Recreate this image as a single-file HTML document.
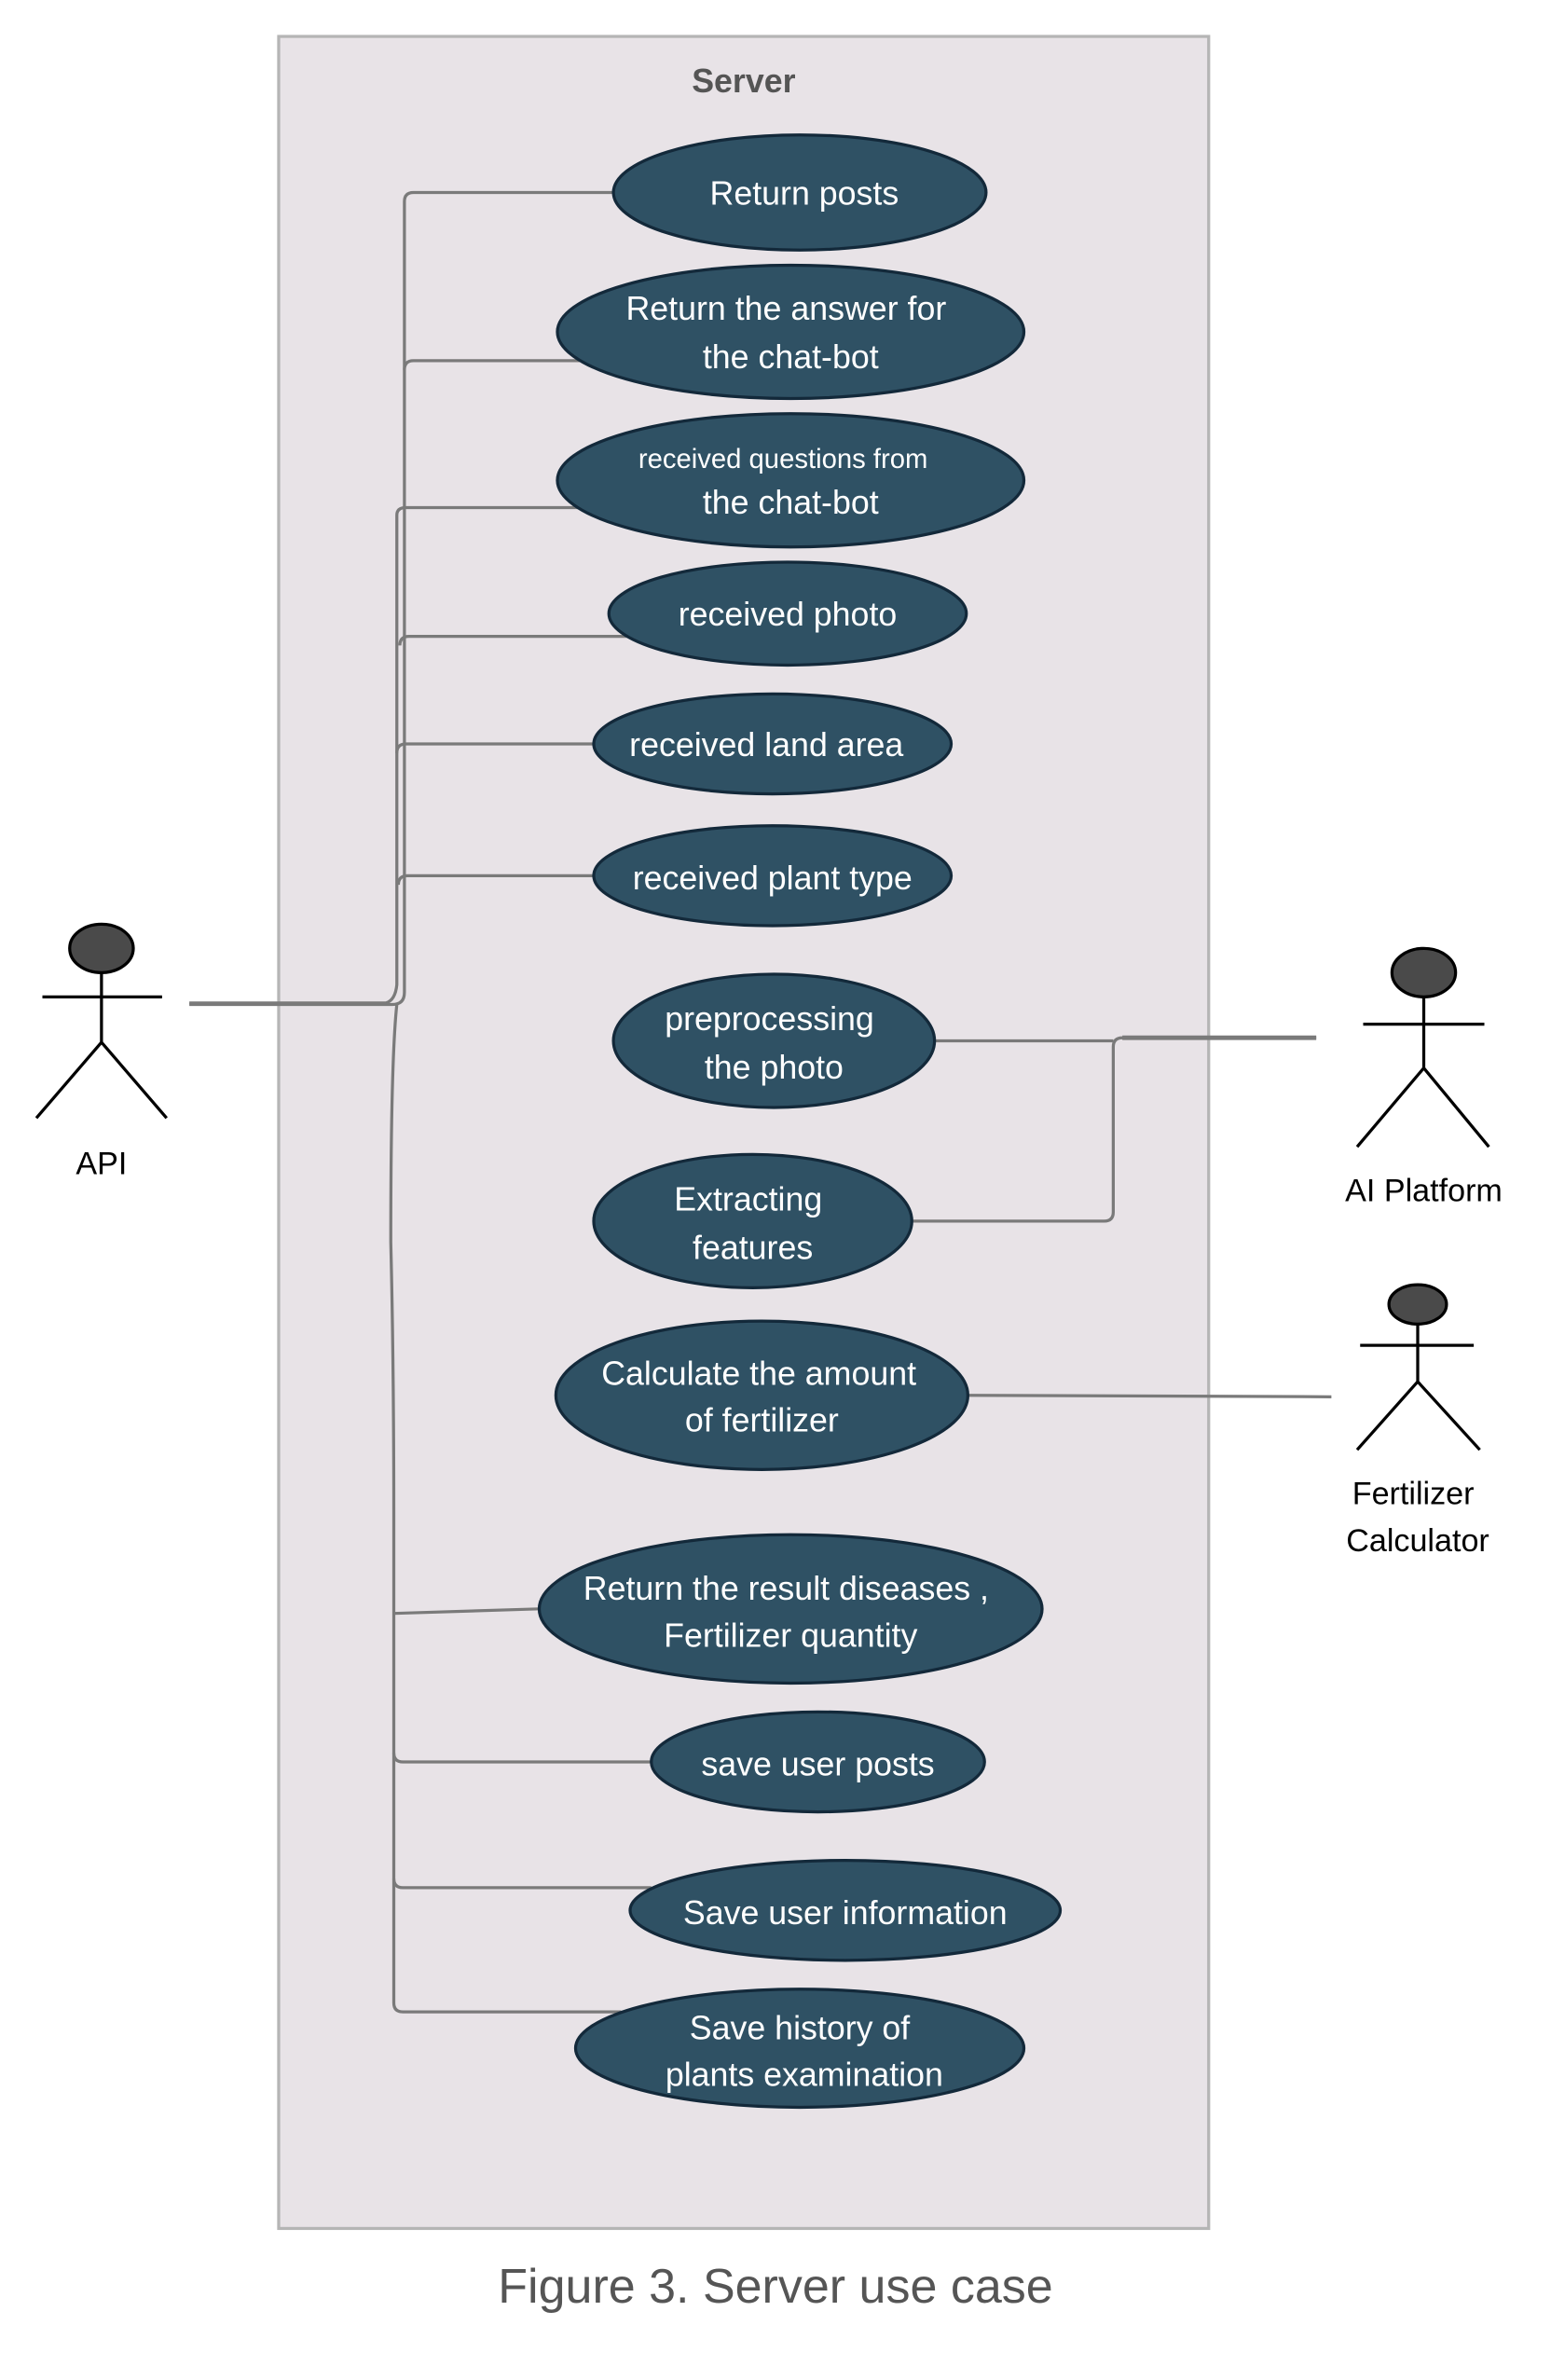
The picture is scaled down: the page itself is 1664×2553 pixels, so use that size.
<!DOCTYPE html>
<html><head><meta charset="utf-8"><style>
html,body{margin:0;padding:0;background:#fff}
svg{display:block}
text{font-family:"Liberation Sans",sans-serif}
</style></head><body>
<svg width="1664" height="2553" viewBox="0 0 1024 1571" xmlns="http://www.w3.org/2000/svg">
<rect x="184" y="24" width="614" height="1447" fill="#e8e3e7" stroke="#b5b5b5" stroke-width="2"/>
<text x="491" y="61" font-size="22" fill="#555" text-anchor="middle" font-weight="bold">Server</text>
<g fill="none" stroke="#7a7a7a" stroke-width="2">
<path d="M405 127 H273 Q267 127 267 133 V655 Q267 663 259 663 H125"/>
<path d="M125 662 H255 Q261 660 262 650 V340 Q262 335 268 335 H384"/>
<path d="M267 244 Q267 238 273 238 H384"/>
<path d="M264 426 Q264 420 270 420 H414"/>
<path d="M262 497 Q262 491 268 491 H392"/>
<path d="M263 584 Q263 578 269 578 H392"/>
<path d="M262 663 Q258 700 258 820 Q260 900 260 1000 V1322 Q260 1328 266 1328 H410"/>
<path d="M260 1065 L356 1062"/>
<path d="M260 1157 Q260 1163 266 1163 H430"/>
<path d="M260 1240 Q260 1246 266 1246 H430"/>
<path d="M617 687 H735"/>
<path d="M602 806 H729 Q735 806 735 800 V691 Q735 685 741 685 H869" />
<path d="M741 685 H869" stroke-width="3"/>
<path d="M639 921 L879 922"/>
</g>
<g fill="#2f5164" stroke="#13293a" stroke-width="2">
<ellipse cx="528" cy="127" rx="123" ry="38"/>
<ellipse cx="522" cy="219" rx="154" ry="44"/>
<ellipse cx="522" cy="317" rx="154" ry="44"/>
<ellipse cx="520" cy="405" rx="118" ry="34"/>
<ellipse cx="510" cy="491" rx="118" ry="33"/>
<ellipse cx="510" cy="578" rx="118" ry="33"/>
<ellipse cx="511" cy="687" rx="106" ry="44"/>
<ellipse cx="497" cy="806" rx="105" ry="44"/>
<ellipse cx="503" cy="921" rx="136" ry="49"/>
<ellipse cx="522" cy="1062" rx="166" ry="49"/>
<ellipse cx="540" cy="1163" rx="110" ry="33"/>
<ellipse cx="558" cy="1261" rx="142" ry="33"/>
<ellipse cx="528" cy="1352" rx="148" ry="39"/>
</g>
<g fill="#fff" font-size="22" text-anchor="middle">
<text x="531" y="135">Return posts</text>
<text x="519" y="211">Return the answer for</text>
<text x="522" y="243">the chat-bot</text>
<text x="517" y="309" font-size="18">received  questions from</text>
<text x="522" y="339">the chat-bot</text>
<text x="520" y="413">received photo</text>
<text x="506" y="499">received land area</text>
<text x="510" y="587">received plant type</text>
<text x="508" y="680">preprocessing</text>
<text x="511" y="712">the photo</text>
<text x="494" y="799">Extracting</text>
<text x="497" y="831">features</text>
<text x="501" y="914">Calculate the amount</text>
<text x="503" y="945">of fertilizer</text>
<text x="519" y="1056">Return the result diseases ,</text>
<text x="522" y="1087">Fertilizer quantity</text>
<text x="540" y="1172">save user posts</text>
<text x="558" y="1270">Save user information</text>
<text x="528" y="1346">Save history of</text>
<text x="531" y="1377">plants examination</text>
</g>
<g stroke="#000" stroke-width="2" fill="none">
<ellipse cx="67" cy="626" rx="21" ry="16" fill="#4a4a4a"/>
<path d="M67 642 V688 M28 658 H107 M67 688 L24 738 M67 688 L110 738"/>
<ellipse cx="940" cy="642" rx="21" ry="16" fill="#4a4a4a"/>
<path d="M940 658 V705 M900 676 H980 M940 705 L896 757 M940 705 L983 757"/>
<ellipse cx="936" cy="861" rx="19" ry="13" fill="#4a4a4a"/>
<path d="M936 874 V912 M898 888 H973 M936 912 L896 957 M936 912 L977 957"/>
</g>
<g fill="#000" font-size="21" text-anchor="middle">
<text x="67" y="775">API</text>
<text x="940" y="793">AI Platform</text>
<text x="933" y="993">Fertilizer</text>
<text x="936" y="1024">Calculator</text>
</g>
<text x="512" y="1520" font-size="32" fill="#555" text-anchor="middle">Figure 3. Server use case</text>
</svg>
</body></html>
